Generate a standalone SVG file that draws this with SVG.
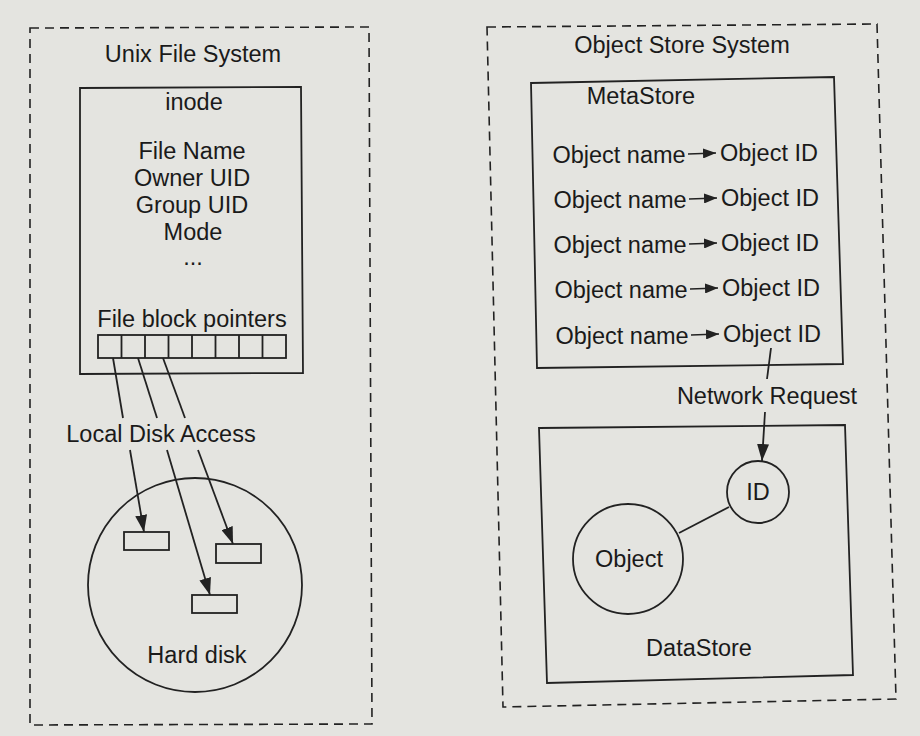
<svg xmlns="http://www.w3.org/2000/svg" width="920" height="736" viewBox="0 0 920 736">
<defs>
<marker id="ah" refX="13" refY="5" markerWidth="13" markerHeight="10" markerUnits="userSpaceOnUse" orient="auto">
<path d="M0,0 L13,5 L0,10 Z" fill="#222"/>
</marker>
<marker id="ahb" refX="17" refY="6" markerWidth="17" markerHeight="12" markerUnits="userSpaceOnUse" orient="auto">
<path d="M0,0 L17,6 L0,12 Z" fill="#222"/>
</marker>
<style>
text{font-family:"Liberation Sans",Arial,sans-serif;font-size:23.5px;fill:#1a1a1a;text-anchor:middle}
.dash{fill:none;stroke:#222;stroke-width:1.6;stroke-dasharray:9 6}
.box{fill:none;stroke:#222;stroke-width:1.8}
.ln{fill:none;stroke:#222;stroke-width:1.8}
.arr{fill:none;stroke:#222;stroke-width:1.8;marker-end:url(#ahb)}
.sa{fill:none;stroke:#222;stroke-width:1.6;marker-end:url(#ah)}
</style>
</defs>
<rect width="920" height="736" fill="#e4e4e0"/>

<g id="unix-fs">
<path class="dash" d="M30,28 L369,27 L372,724 L30,725 Z"/>
<text x="193" y="62">Unix File System</text>
</g>

<g id="inode">
<path class="box" d="M80,88 L301,87 L303,373 L80,374 Z"/>
<text x="194" y="110">inode</text>
<text x="192" y="159">File Name</text>
<text x="192" y="186">Owner UID</text>
<text x="192" y="213">Group UID</text>
<text x="193" y="240">Mode</text>
<text x="193" y="265">...</text>
<text x="192" y="327">File block pointers</text>
</g>

<g id="block-pointers">
<rect class="box" x="98" y="335" width="188" height="23"/>
<path class="box" d="M121.5,335 V358 M145,335 V358 M168.5,335 V358 M192,335 V358 M215.5,335 V358 M239,335 V358 M262.5,335 V358"/>
</g>

<g id="hard-disk">
<circle class="box" cx="195" cy="585" r="107"/>
<rect class="box" x="124" y="532" width="45" height="18"/>
<rect class="box" x="216" y="544" width="45" height="19"/>
<rect class="box" x="192" y="595" width="45" height="18"/>
<text x="197" y="663">Hard disk</text>
</g>

<g id="object-store">
<path class="dash" d="M487,27 L877,24 L896,699 L503,707 Z"/>
<text x="682" y="53">Object Store System</text>
</g>

<g id="metastore">
<path class="box" d="M531,83 L834,77 L843,364 L537,368 Z"/>
<text x="641" y="104">MetaStore</text>
<text x="619" y="163">Object name</text>
<text x="769" y="161">Object ID</text>
<text x="620" y="208">Object name</text>
<text x="770" y="206">Object ID</text>
<text x="620" y="253">Object name</text>
<text x="770" y="251">Object ID</text>
<text x="621" y="298">Object name</text>
<text x="771" y="296">Object ID</text>
<text x="622" y="344">Object name</text>
<text x="772" y="342">Object ID</text>
</g>

<g id="datastore">
<path class="box" d="M539,428 L845,425 L853,675 L547,683 Z"/>
<circle class="box" cx="758" cy="492" r="31"/>
<text x="758" y="500">ID</text>
<circle class="box" cx="628" cy="559" r="55"/>
<text x="629" y="567">Object</text>
<text x="699" y="656">DataStore</text>
</g>

<g id="connectors">
<path class="ln" d="M113,358 L123,418"/>
<path class="ln" d="M138,358 L157,418"/>
<path class="ln" d="M163,358 L185,418"/>
<text x="161" y="442">Local Disk Access</text>
<path class="arr" d="M130,450 L144,532"/>
<path class="arr" d="M167,450 L210,595"/>
<path class="arr" d="M198,450 L233,544"/>

<path class="sa" d="M688,154 L716,153"/>
<path class="sa" d="M689,199 L717,198"/>
<path class="sa" d="M689,244 L717,243"/>
<path class="sa" d="M690,289 L718,288"/>
<path class="sa" d="M691,335 L719,334"/>

<path class="ln" d="M771,348 L767,379"/>
<text x="767" y="404">Network Request</text>
<path class="arr" d="M765,412 L762,461"/>
<path class="ln" d="M679,533 L729,507"/>
</g>
</svg>
